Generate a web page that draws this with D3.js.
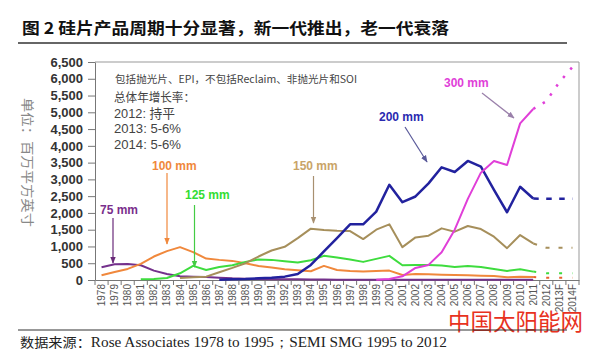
<!DOCTYPE html>
<html><head><meta charset="utf-8">
<script src="https://cdn.jsdelivr.net/npm/d3@7/dist/d3.min.js"></script>
<style>body{margin:0;background:#fff}svg{display:block}</style>
</head><body>
<svg id="chart" width="601" height="350"></svg>
<script>
// ---------- DATA ----------
const years = ["1978","1979","1980","1981","1982","1983","1984","1985","1986","1987","1988","1989","1990","1991","1992","1993","1994","1995","1996","1997","1998","1999","2000","2001","2002","2003","2004","2005","2006","2007","2008","2009","2010","2011","2012","2013F","2014F"];
const actualYears = years.slice(0, 34);          // 1978–2011
const forecastYears = ["2011","2012","2013F","2014F"];
const yTicks = [0,500,1000,1500,2000,2500,3000,3500,4000,4500,5000,5500,6000,6500];

const mm75  = [380,470,480,440,280,180,110,100,90,70,50,40,30,25,20,20,15,15,10,10,10,10,10,5,5,5,5,5,5,5,5,5,5,5];
const mm100 = [140,240,330,480,700,860,980,830,640,600,570,500,420,370,320,290,260,420,300,270,250,270,280,150,180,170,160,150,140,130,120,80,100,90];
const mm125 = [null,null,null,20,30,60,200,420,300,390,440,540,610,600,560,520,590,720,670,610,540,630,720,440,450,450,430,390,420,390,330,270,320,250];
const mm150 = [null,null,null,null,null,null,60,80,100,230,360,500,700,880,990,1250,1530,1490,1470,1460,1220,1500,1660,980,1270,1320,1540,1440,1610,1520,1290,950,1340,1090];
const mm200 = [null,null,null,null,null,null,null,null,null,10,20,30,50,70,100,180,450,850,1250,1660,1660,2040,2840,2320,2490,2880,3360,3220,3550,3380,2690,2020,2780,2430];
const mm300 = [null,null,null,null,null,null,null,null,null,null,null,null,null,null,null,null,null,null,null,null,null,10,30,110,360,450,830,1500,2420,3200,3550,3430,4670,5100];

// forecasts for 2012, 2013F, 2014F
const fc100 = [70,70,70];
const fc125 = [200,200,200];
const fc150 = [960,960,960];
const fc200 = [2420,2420,2420];
const fc300 = [5330,5900,6350];

const seriesNames = ["75 mm","100 mm","125 mm","150 mm","200 mm","300 mm"];

// ---------- CHART ----------
const svg = d3.select("#chart");
const L = 95, R = 579, T = 62, B = 280;
const x = d3.scaleBand().domain(years).range([L, R]).padding(0);
const xc = c => x(c) + x.bandwidth() / 2;
const y = d3.scaleLinear().domain([0, 6500]).range([B, T]);

// title
svg.append("text").attr("x", 22).attr("y", 34)
  .attr("font-family", "'Noto Sans CJK SC'").attr("font-weight", 700).attr("font-size", 16)
  .attr("fill", "#111").attr("textLength", 427).attr("lengthAdjust", "spacingAndGlyphs")
  .text("图 2  硅片产品周期十分显著，新一代推出，老一代衰落");
svg.append("line").attr("x1", 18).attr("x2", 567).attr("y1", 43).attr("y2", 43)
  .attr("stroke", "#333").attr("stroke-width", 1.3);

// frame (top/right)
svg.append("path").attr("d", `M${L},${T}H${R}V${B}`).attr("fill", "none").attr("stroke", "#999").attr("stroke-width", 1);

// y axis
const yAxis = svg.append("g").attr("transform", `translate(${L},0)`)
  .call(d3.axisLeft(y).tickValues(yTicks).tickFormat(d3.format(",")).tickSize(7).tickSizeOuter(0));
yAxis.select(".domain").attr("stroke", "#777");
yAxis.selectAll(".tick line").attr("stroke", "#777");
yAxis.selectAll("text").attr("font-family", "'Liberation Sans', Arial, sans-serif")
  .attr("font-weight", 700).attr("font-size", 13).attr("fill", "#333").attr("x", -12);

// x axis
const xAxis = svg.append("g").attr("transform", `translate(0,${B})`)
  .call(d3.axisBottom(x).tickSize(0).tickSizeOuter(0));
xAxis.select(".domain").attr("stroke", "#777");
xAxis.selectAll("text").attr("font-family", "'Liberation Sans', Arial, sans-serif")
  .attr("font-size", 10).attr("fill", "#555")
  .attr("transform", "rotate(-90)").attr("text-anchor", "end")
  .attr("x", -4).attr("y", 0).attr("dy", "0.35em");
// tick marks between categories
svg.append("g").selectAll("line").data(d3.range(years.length + 1)).join("line")
  .attr("x1", i => L + i * x.bandwidth()).attr("x2", i => L + i * x.bandwidth())
  .attr("y1", B).attr("y2", B + 5).attr("stroke", "#777");

// y axis title
svg.append("text").attr("transform", "translate(23,98) rotate(90)")
  .attr("font-family", "'Noto Sans CJK SC'").attr("font-size", 13).attr("fill", "#888")
  .attr("textLength", 129).attr("lengthAdjust", "spacingAndGlyphs")
  .text("单位：百万平方英寸");

// lines
const line = d3.line().defined(d => d.v != null).x(d => xc(d.c)).y(d => y(d.v));
const solid = [
  {vals: mm75, color: "#74318c", w: 2},
  {vals: mm100, color: "#f0883c", w: 2},
  {vals: mm125, color: "#3edc3e", w: 2},
  {vals: mm150, color: "#a68f5b", w: 2},
  {vals: mm200, color: "#22229e", w: 2.5},
  {vals: mm300, color: "#e03fd8", w: 2}
];
solid.forEach(s => {
  svg.append("path").datum(actualYears.map((c, i) => ({c, v: s.vals[i]})))
    .attr("fill", "none").attr("stroke", s.color).attr("stroke-width", s.w)
    .attr("stroke-linejoin", "round").attr("d", line);
});
const fcs = [
  {vals: fc100, last: mm100[33], color: "#e8602c", w: 2, dash: "3,10"},
  {vals: fc125, last: mm125[33], color: "#3edc3e", w: 2, dash: "3,10"},
  {vals: fc150, last: mm150[33], color: "#a68f5b", w: 2, dash: "4,9"},
  {vals: fc200, last: mm200[33], color: "#22229e", w: 2.5, dash: "5.5,7.5"},
  {vals: fc300, last: mm300[33], color: "#e03fd8", w: 2.5, dash: "2.5,8.5"}
];
fcs.forEach(s => {
  const pts = forecastYears.map((c, i) => ({c, v: i === 0 ? s.last : s.vals[i - 1]}));
  svg.append("path").datum(pts).attr("fill", "none").attr("stroke", s.color)
    .attr("stroke-width", s.w).attr("stroke-dasharray", s.dash).attr("d", line);
});

// annotation arrows + labels
const defs = svg.append("defs");
function arrow(id, color) {
  defs.append("marker").attr("id", id).attr("viewBox", "0 0 10 10").attr("refX", 9).attr("refY", 5)
    .attr("markerWidth", 6).attr("markerHeight", 6).attr("orient", "auto")
    .append("path").attr("d", "M0,1L10,5L0,9z").attr("fill", color);
}
const notes = [
  {t: seriesNames[0], tx: 100, ty: 214, color: "#7a2f8c", ac: "#6a2a7a", a: [113, 218, 113, 263]},
  {t: seriesNames[1], tx: 152, ty: 170, color: "#f0883c", ac: "#f0883c", a: [167, 173, 167, 244]},
  {t: seriesNames[2], tx: 185, ty: 199, color: "#33dd33", ac: "#44cc44", a: [194.5, 205, 194.5, 267]},
  {t: seriesNames[3], tx: 293, ty: 170, color: "#c9a468", ac: "#a89070", a: [313.5, 176, 313.5, 223]},
  {t: seriesNames[4], tx: 379, ty: 121, color: "#2a2ab0", ac: "#5a5a9a", a: [405, 127, 427, 162]},
  {t: seriesNames[5], tx: 444, ty: 87, color: "#e040d8", ac: "#9a80aa", a: [482, 93, 514, 118]}
];
notes.forEach((n, i) => {
  arrow("ar" + i, n.ac);
  svg.append("line").attr("x1", n.a[0]).attr("y1", n.a[1]).attr("x2", n.a[2]).attr("y2", n.a[3])
    .attr("stroke", n.ac).attr("stroke-width", 1.2).attr("marker-end", `url(#ar${i})`);
  svg.append("text").attr("x", n.tx).attr("y", n.ty).attr("fill", n.color)
    .attr("font-family", "'Liberation Sans', Arial, sans-serif").attr("font-weight", 700).attr("font-size", 12)
    .text(n.t);
});

// text box
const tb = svg.append("g").attr("fill", "#444");
tb.append("text").attr("x", 115).attr("y", 83)
  .attr("font-family", "'Noto Sans CJK SC'").attr("font-size", 10.5)
  .attr("textLength", 242).attr("lengthAdjust", "spacingAndGlyphs")
  .text("包括抛光片、EPI，不包括Reclaim、非抛光片和SOI");
tb.append("text").attr("x", 114).attr("y", 102)
  .attr("font-family", "'Noto Sans CJK SC'").attr("font-size", 12)
  .attr("textLength", 81).attr("lengthAdjust", "spacingAndGlyphs").text("总体年增长率：");
[["2012: 持平", 118, 61], ["2013: 5-6%", 133, 67], ["2014: 5-6%", 148.5, 67]].forEach(r => {
  tb.append("text").attr("x", 114).attr("y", r[1])
    .attr("font-family", "'Liberation Sans', 'Noto Sans CJK SC', sans-serif").attr("font-size", 13)
    .attr("textLength", r[2]).attr("lengthAdjust", "spacingAndGlyphs").text(r[0]);
});

// watermark
svg.append("text").attr("x", 448).attr("y", 330)
  .attr("font-family", "'Noto Sans CJK SC'").attr("font-size", 23).attr("fill", "#e8321e")
  .attr("textLength", 135).attr("lengthAdjust", "spacingAndGlyphs").text("中国太阳能网");

// source line
svg.append("line").attr("x1", 18).attr("x2", 567).attr("y1", 330).attr("y2", 330)
  .attr("stroke", "#333").attr("stroke-width", 1.2);
const src = svg.append("text").attr("x", 20).attr("y", 347).attr("font-size", 14).attr("fill", "#222")
  .attr("textLength", 427).attr("lengthAdjust", "spacingAndGlyphs");
src.append("tspan").attr("font-family", "'Noto Sans CJK SC'").attr("font-size", 13).text("数据来源：");
src.append("tspan").attr("font-family", "'Liberation Serif', serif").text("Rose Associates 1978 to 1995；SEMI SMG 1995 to 2012");
</script>
</body></html>
